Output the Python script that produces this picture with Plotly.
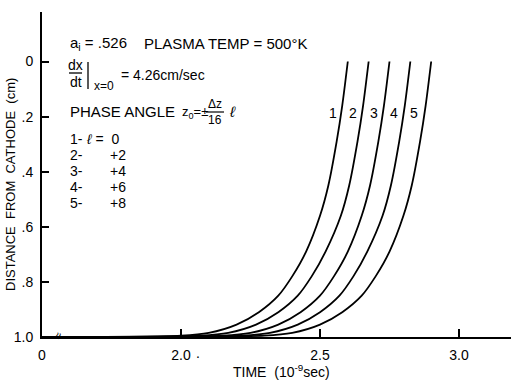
import plotly.graph_objects as go

# ---- data ----
distance = [1.0, 0.995, 0.985, 0.955, 0.91, 0.85, 0.78, 0.69, 0.56, 0.45, 0.29, 0.16, 0.0]
time_1 = [1.5, 2.00, 2.10, 2.20, 2.28, 2.35, 2.40, 2.45, 2.50, 2.53, 2.56, 2.58, 2.60]
time_2 = [1.5, 2.07, 2.17, 2.27, 2.35, 2.42, 2.47, 2.52, 2.575, 2.605, 2.635, 2.655, 2.675]
time_3 = [1.5, 2.15, 2.25, 2.35, 2.43, 2.50, 2.55, 2.60, 2.65, 2.68, 2.71, 2.73, 2.75]
time_4 = [1.5, 2.22, 2.32, 2.42, 2.50, 2.57, 2.62, 2.67, 2.725, 2.755, 2.785, 2.805, 2.825]
time_5 = [1.5, 2.30, 2.40, 2.50, 2.58, 2.65, 2.70, 2.75, 2.80, 2.83, 2.86, 2.88, 2.90]
curves = [time_1, time_2, time_3, time_4, time_5]
curve_ids = ["1", "2", "3", "4", "5"]
ell_values = ["0", "+2", "+4", "+6", "+8"]

x_tickvals = [1.5, 2.0, 2.5, 3.0]
x_ticktext = ["0", "2.0", "2.5", "3.0"]
y_tickvals = [0, 0.2, 0.4, 0.6, 0.8, 1.0]
y_ticktext = ["0", ".2", ".4", ".6", ".8", "1.0"]

# ---- layout geometry (pixels) ----
W, H = 511, 381
L, R, T, B = 42, 0, 12, 44
PW, PH = W - L - R, H - T - B
FONT = "Liberation Sans, Arial, sans-serif"


def px(x):
    return (x - L) / PW


def py(y):
    return (H - B - y) / PH


fig = go.Figure()
for t in curves:
    fig.add_trace(go.Scatter(x=t, y=distance, mode="lines",
                             line=dict(color="black", width=1.8, shape="spline", smoothing=0.8),
                             hoverinfo="skip", showlegend=False))

ann = []


def text(x, y, s, size=14, xa="left", ya="middle", angle=0):
    ann.append(dict(x=px(x), y=py(y), xref="paper", yref="paper", text=s, showarrow=False,
                    xanchor=xa, yanchor=ya, textangle=angle,
                    font=dict(family=FONT, size=size, color="black")))


# header block
text(68, 43, "a<sub>i</sub> = .526", 15)
text(142, 43, "PLASMA TEMP = 500°K", 15)
text(75.5, 65, "dx", 14, xa="center")
text(75.5, 82, "dt", 14, xa="center")
text(92, 86, "x=0", 12)
text(119, 75, "= 4.26cm/sec", 14)
text(68, 111, "PHASE ANGLE", 15)
text(180, 112, "z<sub>0</sub>=±", 13)
text(215, 104, "Δz", 12, xa="center")
text(215, 120, "16", 12, xa="center")
text(227, 111, "<i>ℓ</i>", 15)
for i, (cid, ev) in enumerate(zip(curve_ids, ell_values)):
    yy = 139 + i * 16
    text(68, yy, cid + "-", 14)
    if i == 0:
        text(84, yy, "<i>ℓ</i> =  " + ev, 14)
    else:
        text(108, yy, ev, 14)

# curve labels
for i, cid in enumerate(curve_ids):
    text(333 + i * 20.3, 113, cid, 14, xa="center")

# axis titles
text(281, 371, "TIME  (10<sup>-9</sup>sec)", 14, xa="center")
text(10, 185, "DISTANCE  FROM  CATHODE  (cm)", 13, xa="center", angle=-90)
# break mark and stray dot
text(58, 336, "≈", 12, xa="center", angle=-70)
text(198, 353, ".", 14, xa="center")

shapes = [
    dict(type="line", xref="paper", yref="paper", x0=px(69), x1=px(82), y0=py(73), y1=py(73),
         line=dict(color="black", width=1.3)),
    dict(type="line", xref="paper", yref="paper", x0=px(88), x1=px(88), y0=py(62), y1=py(89),
         line=dict(color="black", width=1.3)),
    dict(type="line", xref="paper", yref="paper", x0=px(206), x1=px(224), y0=py(112), y1=py(112),
         line=dict(color="black", width=1.2)),
]

fig.update_layout(
    width=W, height=H, margin=dict(l=L, r=R, t=T, b=B, pad=0),
    paper_bgcolor="white", plot_bgcolor="white",
    annotations=ann, shapes=shapes, showlegend=False,
    font=dict(family=FONT, size=14, color="black"),
    xaxis=dict(range=[1.5, 1.5 + PW / 278.0], tickvals=x_tickvals, ticktext=x_ticktext,
               ticks="inside", ticklen=8, tickwidth=1.5, tickcolor="black",
               showline=True, linecolor="black", linewidth=2, showgrid=False, zeroline=False,
               ticklabelstandoff=4, tickfont=dict(family=FONT, size=14)),
    yaxis=dict(range=[1.0, 1.0 - PH / 275.5], tickvals=y_tickvals, ticktext=y_ticktext,
               ticks="inside", ticklen=7, tickwidth=1.5, tickcolor="black",
               showline=True, linecolor="black", linewidth=2, showgrid=False, zeroline=False,
               ticklabelstandoff=4, tickfont=dict(family=FONT, size=14)),
)

fig.write_html("out.html", config={"displayModeBar": False},
               post_script="document.body.style.margin='0';document.body.style.overflow='hidden';")
